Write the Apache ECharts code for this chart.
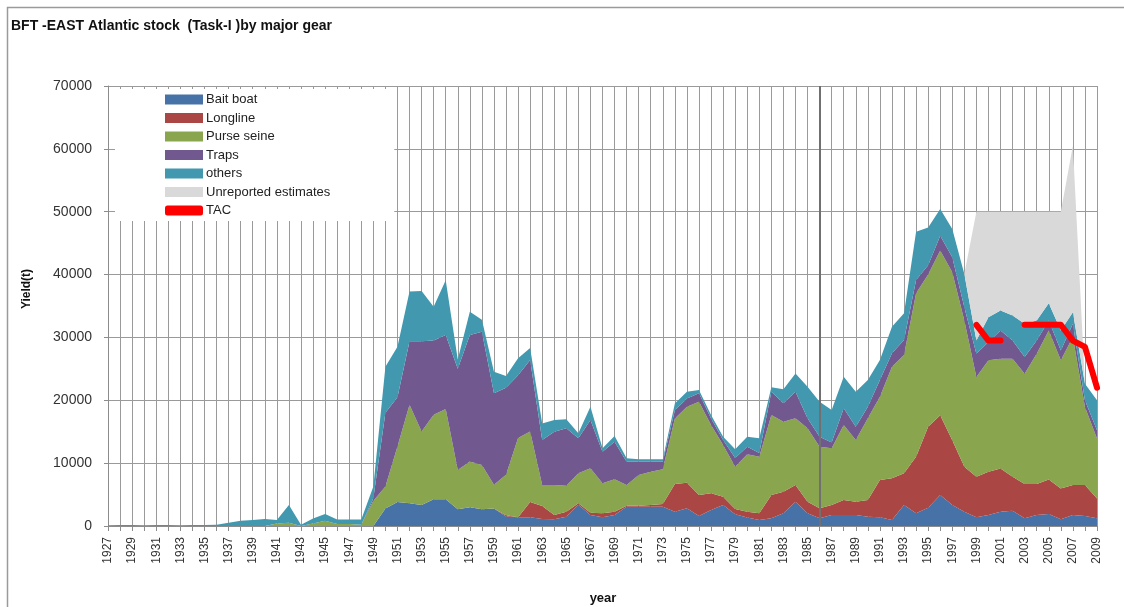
<!DOCTYPE html>
<html>
<head>
<meta charset="utf-8">
<script src="https://cdn.jsdelivr.net/npm/echarts@6/dist/echarts.min.js"></script>
<style>
  html, body { margin: 0; padding: 0; background: #fff; }
  #chart { width: 1124px; height: 607px; }
</style>
</head>
<body>
<div id="chart"></div>
<script>
// BFT East Atlantic catches by gear (t)
var years = ['1927','1928','1929','1930','1931','1932','1933','1934','1935','1936',
  '1937','1938','1939','1940','1941','1942','1943','1944','1945','1946',
  '1947','1948','1949','1950','1951','1952','1953','1954','1955','1956',
  '1957','1958','1959','1960','1961','1962','1963','1964','1965','1966',
  '1967','1968','1969','1970','1971','1972','1973','1974','1975','1976',
  '1977','1978','1979','1980','1981','1982','1983','1984','1985','1986',
  '1987','1988','1989','1990','1991','1992','1993','1994','1995','1996',
  '1997','1998','1999','2000','2001','2002','2003','2004','2005','2006',
  '2007','2008','2009'];

var baitBoat = [0,0,0,0,0,0,0,0,0,0,
  0,0,0,0,0,0,0,0,0,0,
  0,0,0,2800,3800,3600,3350,4250,4250,2650,
  3000,2650,2800,1500,1400,1400,1100,1060,1480,3400,
  1750,1380,1750,3080,3080,3080,3080,2280,2810,1590,
  2550,3340,1850,1350,950,1220,2010,3870,2010,1220,
  1750,1750,1750,1480,1400,950,3340,2010,2900,4920,
  3330,2280,1380,1750,2280,2430,1220,1750,1900,1060,
  1750,1590,1220];

var longline = [0,0,0,0,0,0,0,0,0,0,
  0,0,0,0,0,0,0,0,0,0,
  0,0,0,0,0,0,0,0,0,0,
  0,0,0,200,0,2400,2100,690,800,200,
  370,630,530,150,150,260,420,4400,4080,3340,
  2650,1330,850,930,1060,3710,3450,2650,1860,1590,
  1590,2390,2120,2660,5920,6630,5040,9020,12900,12700,
  10320,7140,6450,6870,6870,5400,5450,4920,5510,4920,
  4760,4920,3170];

var purseSeine = [0,0,0,0,0,0,0,0,0,0,
  0,0,0,0,400,500,0,400,850,300,
  300,200,4000,3500,8850,15700,11700,13450,14350,6250,
  7250,7050,3750,6450,12600,11250,3320,4770,4120,4780,
  7050,4780,5140,3290,4870,5300,5510,10420,12090,14850,
  10870,8210,6740,9120,9020,12730,11140,10610,11670,9810,
  9010,11930,9810,12990,13250,17770,18820,25980,24200,26190,
  26720,23280,15870,17730,17460,18780,17560,20740,23700,20370,
  23540,12430,9530];

var traps = [0,0,0,0,0,0,0,0,0,0,
  0,0,0,0,0,0,0,0,0,0,
  0,0,400,11700,7850,10100,14350,11800,11800,16100,
  20150,21200,14550,13850,10000,11350,7160,8480,9140,5570,
  7690,5030,5980,3710,2130,1590,1220,1300,1320,1320,
  1030,800,1360,1200,570,3710,2910,4240,1590,1590,
  950,2650,2120,1850,2650,2120,2390,2120,1500,2380,
  2380,2110,3710,2910,4500,2910,2650,2110,1590,1590,
  2120,1060,1320];

var others = [100,150,150,100,150,150,100,150,150,200,
  500,850,950,1100,550,2850,200,800,1050,750,
  750,850,1900,7350,8000,7900,8000,5400,8700,1500,
  3700,1900,3450,1850,2700,1900,2620,1860,1430,790,
  2120,530,900,530,370,370,370,1100,1070,530,
  560,520,1400,1600,2350,690,2230,2910,5030,5570,
  5150,5030,5570,4240,3180,4230,4240,7690,6000,4230,
  4500,5300,2110,3970,3180,3970,5290,3180,2750,3170,
  1850,2650,4760];

var unreported = [0,0,0,0,0,0,0,0,0,0,
  0,0,0,0,0,0,0,0,0,0,
  0,0,0,0,0,0,0,0,0,0,
  0,0,0,0,0,0,0,0,0,0,
  0,0,0,0,0,0,0,0,0,0,
  0,0,0,0,0,0,0,0,0,0,
  0,0,0,0,0,0,0,0,0,0,
  0,0,20480,16770,15710,16510,17830,17300,14550,18890,
  26480,0,0];

// TAC from 1999 (no line drawn for 2002)
var tacYears = ['1999','2000','2001','2002','2003','2004','2005','2006','2007','2008','2009'];
var tacValues = [32000,29500,29500,null,32000,32000,32000,32000,29500,28500,22000];

var yTicks = [0,10000,20000,30000,40000,50000,60000,70000];

var tac = years.map(function (y) {
  var i = tacYears.indexOf(y);
  return i < 0 ? null : tacValues[i];
});

var chart = echarts.init(document.getElementById('chart'));

function areaSeries(name, data, color) {
  return {
    name: name,
    type: 'line',
    stack: 'gear',
    data: data,
    symbol: 'none',
    smooth: false,
    lineStyle: { width: 0 },
    areaStyle: { color: color, opacity: 1 },
    itemStyle: { color: color },
    emphasis: { disabled: true }
  };
}

var option = {
  backgroundColor: '#fff',
  animation: false,
  title: {
    text: 'BFT -EAST Atlantic stock  (Task-I )by major gear',
    left: 11,
    top: 19,
    padding: 0,
    textStyle: { fontFamily: 'Liberation Sans', fontSize: 14, fontWeight: 'bold', color: '#111' }
  },
  graphic: [
    {
      type: 'rect',
      shape: { x: 7.5, y: 7.5, width: 1300, height: 800 },
      style: { fill: 'none', stroke: '#9a9a9a', lineWidth: 1.5 },
      silent: true
    },
    {
      type: 'text',
      x: 27, y: 289,
      rotation: Math.PI / 2,
      style: { text: 'Yield(t)', font: 'bold 12px "Liberation Sans"', fill: '#111', textAlign: 'center', textVerticalAlign: 'middle' }
    },
    {
      type: 'text',
      x: 603, y: 598,
      style: { text: 'year', font: 'bold 13px "Liberation Sans"', fill: '#111', textAlign: 'center', textVerticalAlign: 'middle' }
    }
  ],
  legend: {
    orient: 'vertical',
    left: 115,
    top: 89,
    padding: [4, 64, 4, 50],
    backgroundColor: '#fff',
    itemWidth: 38,
    itemHeight: 10,
    itemGap: 5.5,
    textStyle: { fontFamily: 'Liberation Sans', fontSize: 13, color: '#222', padding: [0, 0, 0, -2] },
    data: [
      { name: 'Bait boat', icon: 'rect' },
      { name: 'Longline', icon: 'rect' },
      { name: 'Purse seine', icon: 'rect' },
      { name: 'Traps', icon: 'rect' },
      { name: 'others', icon: 'rect' },
      { name: 'Unreported estimates', icon: 'rect' },
      { name: 'TAC', icon: 'roundRect' }
    ]
  },
  grid: { left: 108, right: 27, top: 86, bottom: 81, containLabel: false },
  xAxis: {
    type: 'category',
    data: years,
    boundaryGap: false,
    axisLine: { lineStyle: { color: '#8c8c8c', width: 1 } },
    axisTick: { show: true, interval: 0, length: 5, lineStyle: { color: '#8c8c8c' } },
    axisLabel: { interval: 1, rotate: 90, margin: 11, fontFamily: 'Liberation Sans', fontSize: 12, color: '#333' },
    splitLine: { show: true, interval: 0, lineStyle: { color: '#9a9a9a', width: 1 } }
  },
  yAxis: {
    type: 'value',
    min: yTicks[0],
    max: yTicks[yTicks.length - 1],
    interval: 10000,
    axisLine: { show: true, lineStyle: { color: '#8c8c8c', width: 1 } },
    axisTick: { show: true, length: 4, lineStyle: { color: '#8c8c8c' } },
    axisLabel: {
      margin: 16, fontFamily: 'Liberation Sans', fontSize: 14, color: '#333',
      formatter: function (v) { return String(v); }
    },
    splitLine: { show: true, lineStyle: { color: '#9a9a9a', width: 1 } }
  },
  series: [
    areaSeries('Bait boat', baitBoat, '#4672A8'),
    areaSeries('Longline', longline, '#AA4643'),
    areaSeries('Purse seine', purseSeine, '#89A54E'),
    areaSeries('Traps', traps, '#71588F'),
    areaSeries('others', others, '#4198AF'),
    areaSeries('Unreported estimates', unreported, '#D9D9D9'),
    {
      name: 'TAC',
      type: 'line',
      data: tac,
      symbol: 'none',
      connectNulls: false,
      z: 5,
      lineStyle: { color: '#FF0000', width: 6, cap: 'round', join: 'round' },
      itemStyle: { color: '#FF0000' },
      emphasis: { disabled: true },
      markLine: {
        silent: true,
        symbol: 'none',
        label: { show: false },
        lineStyle: { color: '#707070', width: 2, type: 'solid' },
        data: [{ xAxis: '1986' }]
      }
    }
  ]
};

chart.setOption(option);
</script>
</body>
</html>
